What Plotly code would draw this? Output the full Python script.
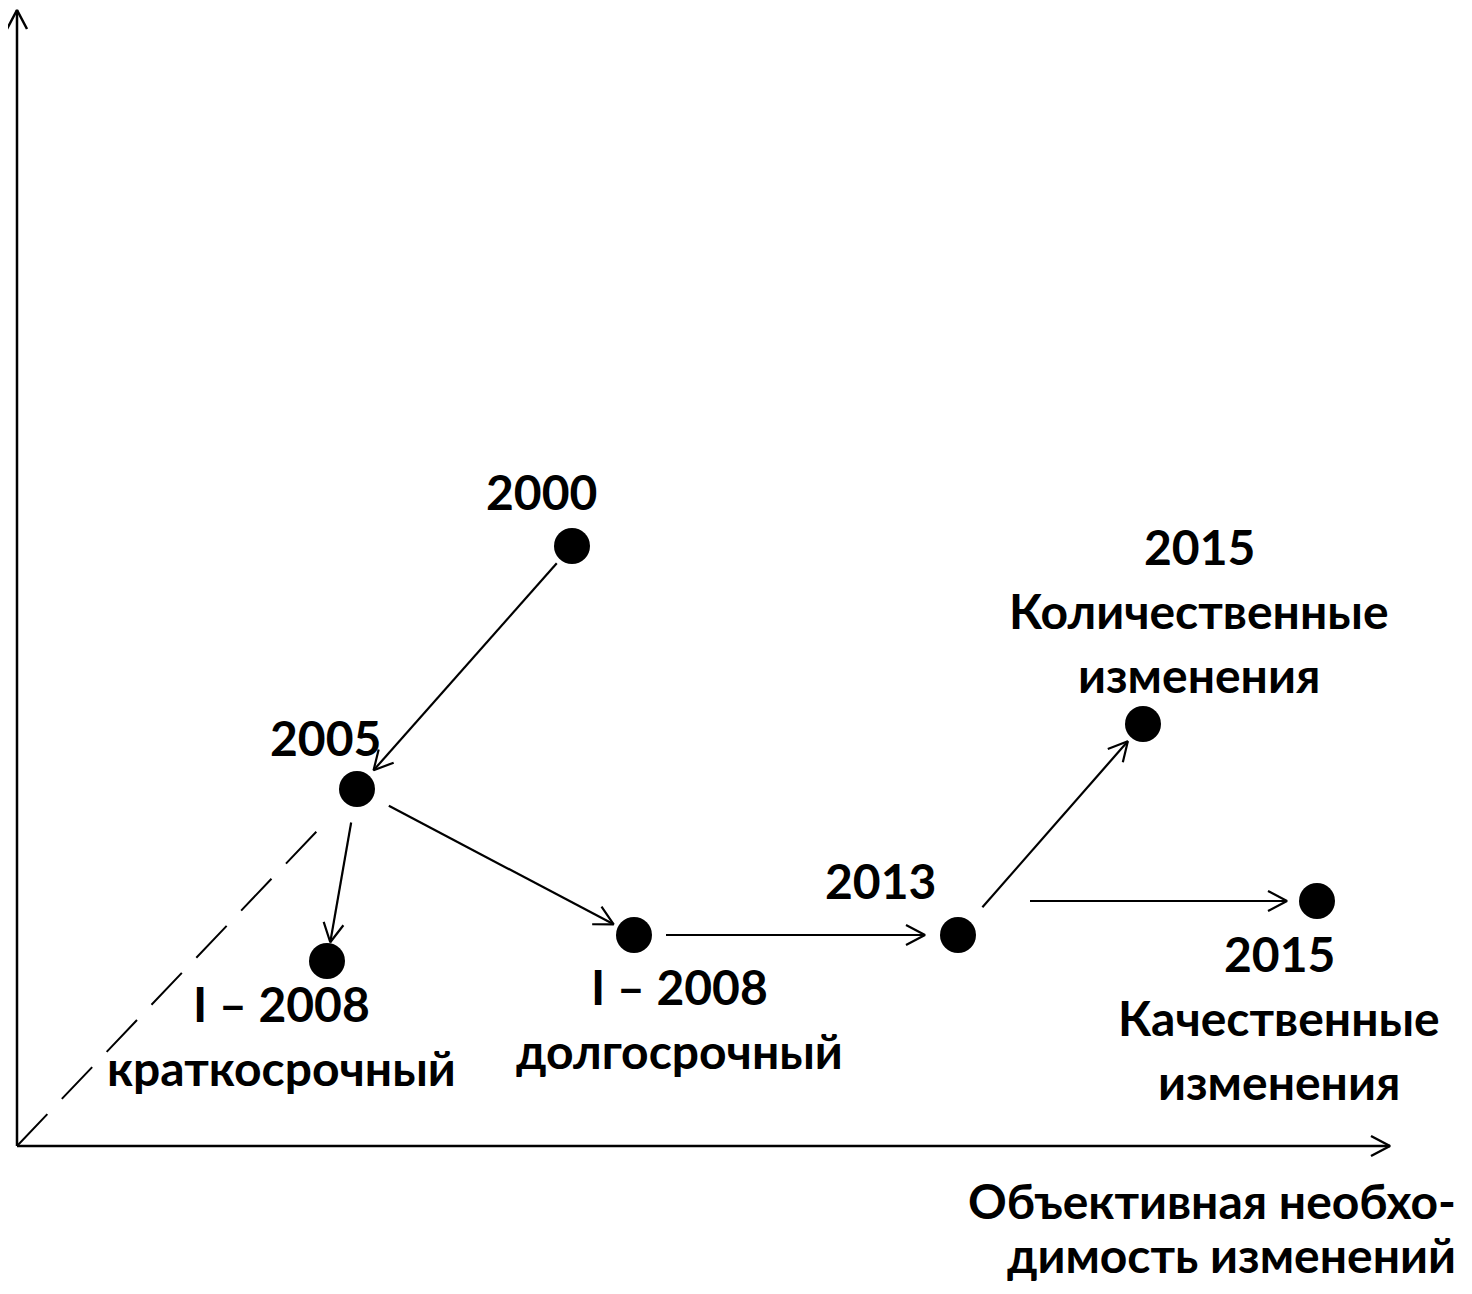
import math
import plotly.graph_objects as go

# ---- data (chart units; origin at the axes' corner) ----
point_names = ["2000", "2005", "I-2008 short", "I-2008 long", "2013", "2015 quant", "2015 qual"]
point_x = [555, 340, 310, 617, 941, 1126, 1300]
point_y = [600, 357, 185, 211, 211, 422, 245]

label_lines = [
    ["2000"],
    ["2005"],
    ["I – 2008", "краткосрочный"],
    ["I – 2008", "долгосрочный"],
    ["2013"],
    ["2015", "Количественные", "изменения"],
    ["2015", "Качественные", "изменения"],
]
axis_label_lines = ["Объективная необхо-", "димость изменений"]

# arrows: (from, to, start gap, end gap, level-with-target)
arrows = [
    (0, 1, 23, 25, False),
    (1, 2, 34, 19, False),
    (1, 3, 36, 23, False),
    (3, 4, 32, 33, False),
    (4, 5, 37, 23, False),
    (4, 6, 72, 30, True),
]

# ---- layout / style ----
PAGE_MARGIN = 8               # default body margin of the html page
W, H = 1472 - 2 * PAGE_MARGIN, 1294 - 2 * PAGE_MARGIN
OX, OY = 17 - PAGE_MARGIN, 1146 - PAGE_MARGIN   # figure-pixel position of the axes' origin
FONT = dict(family="Lato, 'Noto Sans', sans-serif", size=48, color="black")
LINE_H = 64
# label first-line centre offsets from their point (dx, dy in chart units, y up)
label_off = [(-31, 55), (-32, 52), (-46, -42), (45, -51), (-78, 55), (56, 178), (-38, -52)]
axis_label_anchor = (1440, -54)
AXIS_LINE_H = 54

fig = go.Figure()

def add_line(x0, y0, x1, y1, width=2, dash=None):
    fig.add_trace(go.Scatter(x=[x0, x1], y=[y0, y1], mode="lines",
                             line=dict(color="black", width=width, dash=dash),
                             hoverinfo="skip", showlegend=False))

def add_arrow(x0, y0, x1, y1, width=2.2, head_len=19, head_w=10):
    add_line(x0, y0, x1, y1, width)
    d = math.hypot(x1 - x0, y1 - y0)
    ux, uy = (x1 - x0) / d, (y1 - y0) / d
    bx, by = x1 - ux * head_len, y1 - uy * head_len
    px, py = -uy * head_w, ux * head_w
    fig.add_trace(go.Scatter(x=[bx + px, x1, bx - px], y=[by + py, y1, by - py], mode="lines",
                             line=dict(color="black", width=width),
                             hoverinfo="skip", showlegend=False))

# axes with arrows
add_arrow(0, 0, 0, 1136, width=2.5)
add_arrow(0, 0, 1373, 0, width=2.5)

# dashed line from origin towards 2005
tx, ty = point_x[1], point_y[1]
d = math.hypot(tx, ty)
add_line(0, 0, tx - tx / d * 38, ty - ty / d * 38, width=2, dash="44px,21px")

# arrows between points
for a, b, g0, g1, level in arrows:
    xa, ya, xb, yb = point_x[a], point_y[a], point_x[b], point_y[b]
    if level:
        sx, sy = xa + g0, yb
        ex, ey = xb - g1, yb
    else:
        dd = math.hypot(xb - xa, yb - ya)
        ux, uy = (xb - xa) / dd, (yb - ya) / dd
        sx, sy = xa + ux * g0, ya + uy * g0
        ex, ey = xb - ux * g1, yb - uy * g1
    add_arrow(sx, sy, ex, ey)

# points
fig.add_trace(go.Scatter(x=point_x, y=point_y, mode="markers",
                         marker=dict(color="black", size=36, line=dict(width=0)),
                         text=point_names, hoverinfo="text", showlegend=False))

# labels
for i, lines in enumerate(label_lines):
    dx, dy = label_off[i]
    for k, t in enumerate(lines):
        fig.add_annotation(x=point_x[i] + dx, y=point_y[i] + dy - k * LINE_H, text="<b>%s</b>" % t,
                           showarrow=False, xanchor="center", yanchor="middle", font=FONT)

for k, t in enumerate(axis_label_lines):
    fig.add_annotation(x=axis_label_anchor[0], y=axis_label_anchor[1] - k * AXIS_LINE_H,
                       text="<b>%s</b>" % t, borderpad=0,
                       showarrow=False, xanchor="right", yanchor="middle", font=FONT)

fig.update_xaxes(range=[-OX, W - OX], visible=False, fixedrange=True)
fig.update_yaxes(range=[OY - H, OY], visible=False, fixedrange=True)
fig.update_layout(width=W, height=H, margin=dict(l=0, r=0, t=0, b=0),
                  plot_bgcolor="white", paper_bgcolor="white", showlegend=False)

fig.write_html("out.html")
